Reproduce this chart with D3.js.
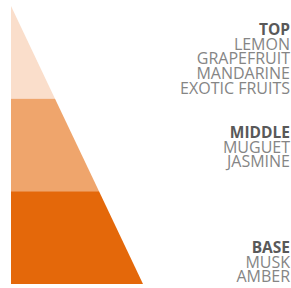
<!DOCTYPE html>
<html>
<head>
<meta charset="utf-8">
<script src="https://cdn.jsdelivr.net/npm/d3@7"></script>
<style>
  html, body { margin: 0; padding: 0; background: #fff; }
  svg { display: block; }
  .head { font-family: "Open Sans", sans-serif; font-weight: 700; fill: #595959; }
  .note { font-family: "Open Sans", sans-serif; fill: #858585; }
</style>
</head>
<body>
<script>
// pyramid layers, top to bottom
const layerNames = ["TOP", "MIDDLE", "BASE"];
const layerShares = [1, 1, 1];
const layerNotes = [
    ["LEMON", "GRAPEFRUIT", "MANDARINE", "EXOTIC FRUITS"],
    ["MUGUET", "JASMINE"],
    ["MUSK", "AMBER"]
];
const layerColors = ["#fadecb", "#efa56c", "#e4680a"];

const W = 291, H = 288;
const lineH = 14.7;
// header baseline for each label block
const headY = [35, 138, 253];

const total = d3.sum(layerShares);
const cum = d3.cumsum([0].concat(layerShares));

let y = d3.scaleLinear().domain([0, total]).range([6, 284]);
let x = d3.scaleLinear().domain([0, total]).range([11, 143]);

let svg = d3.select("body").append("svg")
    .attr("width", W)
    .attr("height", H);

layerNames.forEach(function (name, i) {
    const a = cum[i], b = cum[i + 1];
    const pts = [
        [x(0), y(a)], [x(a), y(a)], [x(b), y(b)], [x(0), y(b)]
    ];
    svg.append("path")
        .attr("d", "M" + pts.join("L") + "Z")
        .attr("fill", layerColors[i]);

    let g = svg.append("g").attr("text-anchor", "end");
    g.append("text")
        .attr("class", "head")
        .attr("x", 290)
        .attr("y", headY[i])
        .style("font-size", "15.5px")
        .text(name);
    layerNotes[i].forEach(function (n, j) {
        g.append("text")
            .attr("class", "note")
            .attr("x", 290)
            .attr("y", headY[i] + lineH * (j + 1))
            .style("font-size", "16px")
            .text(n);
    });
});
</script>
</body>
</html>
